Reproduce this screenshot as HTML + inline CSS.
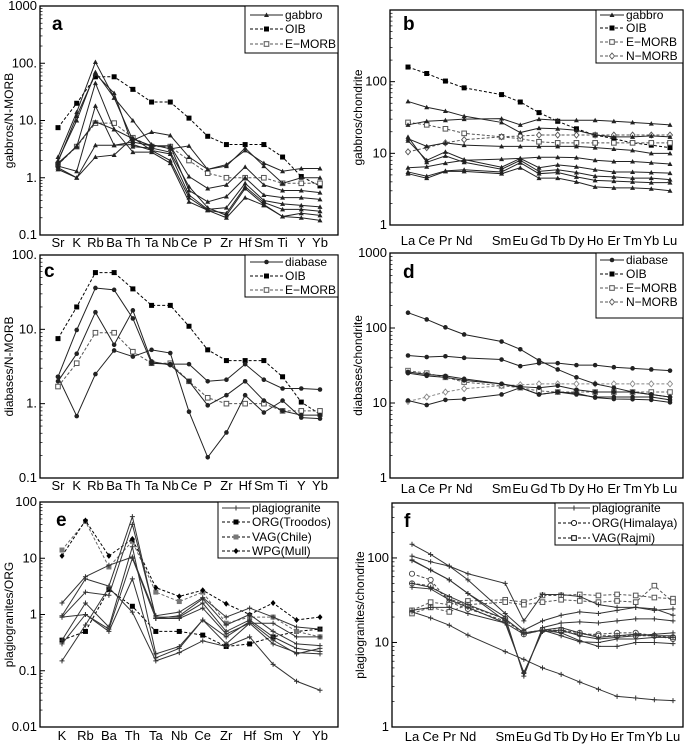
<!DOCTYPE html>
<html><head><meta charset="utf-8"><style>
html,body{margin:0;padding:0;background:#fff;}
svg{display:block;font-family:"Liberation Sans",Arial,sans-serif;}
</style></head><body>
<svg id="fig" width="685" height="744" viewBox="0 0 685 744" xmlns="http://www.w3.org/2000/svg"></svg>
<script>
const spiderA = ["Sr","K","Rb","Ba","Th","Ta","Nb","Ce","P","Zr","Hf","Sm","Ti","Y","Yb"];
const reeLabels = ["La","Ce","Pr","Nd","","Sm","Eu","Gd","Tb","Dy","Ho","Er","Tm","Yb","Lu"];
const reeIdx = [0,1,2,3,5,6,7,8,9,10,11,12,13,14];
const spiderE = ["K","Rb","Ba","Th","Ta","Nb","Ce","Zr","Hf","Sm","Y","Yb"];

const oibA = [7.5,20,58,58,35,21,21,11,5.3,3.8,3.8,3.8,2.3,1.05,0.72];
const emorbA = [1.7,3.5,9,9,5,3.5,3.5,2,1.2,1,1,1,0.8,0.8,0.8];
const gabbroA = [
 [2.3,14,105,25,10,3.8,3.2,3.6,1.4,1.7,3.0,1.8,1.3,1.45,1.45],
 [2.0,10,70,25,4.5,6.3,5.5,2.3,1.4,1.6,3.3,1.6,0.8,1.0,1.0],
 [1.8,3.5,45,7,4.8,3.6,3.6,1.05,0.65,0.75,1.55,0.75,0.6,0.6,0.55],
 [1.6,1.3,18,3.7,4.2,3.6,3.6,0.6,0.38,0.47,1.0,0.5,0.45,0.45,0.42],
 [1.5,1.0,3.7,3.7,3.8,3.0,2.6,0.5,0.28,0.3,0.8,0.4,0.35,0.33,0.31],
 [1.4,1.0,2.3,2.5,5.0,3.0,2.0,0.45,0.27,0.24,0.7,0.37,0.28,0.28,0.26],
 [1.7,3.6,9.5,7,2.8,2.8,1.8,0.38,0.27,0.2,0.45,0.33,0.21,0.2,0.18],
 [1.9,12,65,30,3.5,3.3,2.8,0.7,0.3,0.22,0.65,0.34,0.21,0.24,0.22]
];
const oibREE = [160,130,102,82,66,52,37,28,22,18,16,14,13,12];
const emorbREE = [27,25,22,19,17,16,14.5,14,14,14,14,14,14,14];
const nmorbREE = [10.5,12,14,15.5,17,17.5,18,18,18,18,18,18,18,18];
const gabbroB = [
 [53,44,39,33,27,19.5,22.5,22,21,18,17,17,17.5,17],
 [25,28,29,30,30.5,25,30,29,29,29,28,27,26,25],
 [16,12.5,14,13,12.5,12.5,12.5,12.5,12.5,12,11.5,11,10,10],
 [6.3,6.5,7.3,8,8.3,8.5,8.8,8.8,8.7,8,7.7,7.7,7.4,7.1],
 [15,8,10.5,8.2,6.4,8.5,6.3,6.9,6.5,5.9,5.5,5.5,5.4,5.3],
 [17,7.5,9.2,7.5,6,8,5.6,5.9,5.4,4.8,4.7,4.5,4.5,4.3],
 [5.5,4.8,5.7,5.9,5.5,7.4,5.2,5.4,4.7,4.2,4.1,4.0,3.9,3.9],
 [5.2,4.5,5.6,5.6,5.2,6.3,4.5,4.5,4,3.4,3.3,3.3,3.2,3.0]
];
const diabaseC = [
 [2.3,9.8,36,34,14,3.5,3.4,3.4,2.0,2.1,3.4,2.1,1.6,1.6,1.55],
 [2.0,4.7,17,6.2,18,3.7,3.3,2.0,0.95,1.3,2.0,1.1,0.8,0.7,0.7],
 [2.3,0.68,2.5,5.2,4.3,5.3,4.8,0.78,0.19,0.41,1.3,0.76,1.1,0.65,0.63]
];
const diabaseD = [
 [43,41,42,40,38,31,34,34,32,32,30,29,28,27],
 [26,24,23,21,18,16.5,16,17,15,14,14,14,13,12],
 [25,23,22,20,18,16,13,14,13,12,12,12,12,11],
 [10.8,9.4,11,11.3,13,16,13,14,13.5,11.8,11.3,11.2,11,10.2]
];
const orgE = [0.35,0.5,2.8,1.4,0.5,0.5,0.43,0.27,0.3,0.4,0.5,0.55];
const vagE = [14,45,7,20,2.5,1.7,2.5,0.7,0.9,0.9,0.5,0.4];
const wpgE = [11,47,11,22,3.0,2.1,2.7,1.55,1.0,1.6,0.8,0.9];
const plagE = [
 [1.6,4.7,7.5,10.5,0.95,1.1,2.0,0.9,1.3,0.9,0.6,0.55],
 [0.95,4.3,3.2,55,0.85,0.95,1.9,0.65,1.0,0.5,0.3,0.28],
 [0.9,2.5,2.2,40,0.9,0.9,1.6,0.5,0.8,0.4,0.25,0.22],
 [0.35,1.6,0.6,16,0.2,0.27,0.8,0.4,0.75,0.35,0.2,0.25],
 [0.3,1.0,0.5,4.3,0.17,0.25,0.8,0.3,0.7,0.3,0.21,0.2],
 [0.15,0.65,3.0,1.1,0.15,0.21,0.34,0.27,0.4,0.13,0.065,0.045],
 [0.9,1.0,0.55,10,0.85,0.85,1.3,0.45,0.7,0.7,0.4,0.4]
];
const orgF = [
 [65,55,30,25,18,13,14,13.5,12.5,12.5,13,13,12,11],
 [50,47,33,27,19,12.5,14,14,13,12,12,12,12,11.5]
];
const vagF = [
 [24,30,28,31,32,30,36,36,37,36,37,36,34,33],
 [22,26,23,28,30,28,30,32,31,30,31,30,47,30]
];
const plagF = [
 [145,110,80,65,50,18,37,37,35,28,26,26,25,21],
 [105,90,80,55,22,14,18,21,23,22,24,26,24,25],
 [95,72,55,38,20,4,15,17,17.5,17,18,19,19,18],
 [50,45,35,28,19,13,14,15,13,11.5,12,12.5,12,12],
 [45,43,32,26,17,12.5,14,13,10.5,9,9,10,10,9.7],
 [23,19.5,16,12.2,7.8,6.3,5,4.2,3.4,2.8,2.3,2.2,2.1,2.05],
 [93,72,55,38,18,4.3,14,12,10.2,10,11,11,11.5,11.5],
 [24,26,26,22,17,4.4,13.5,14,12,11,11.5,12,12.5,13]
];

const svg = document.getElementById('fig');
const NS = "http://www.w3.org/2000/svg";
function mk(tag, attrs, parent){const e=document.createElementNS(NS,tag);for(const k in attrs)e.setAttribute(k,attrs[k]);(parent||svg).appendChild(e);return e;}

function marker(g, type, x, y, color){
  let m;
  if(type==='tri') m=mk('path',{d:`M${x},${y-2.5}L${x+2.5},${y+2}L${x-2.5},${y+2}Z`,fill:color},g);
  else if(type==='sq') m=mk('rect',{x:x-2.5,y:y-2.5,width:5,height:5,fill:color},g);
  else if(type==='osq') m=mk('rect',{x:x-2.3,y:y-2.3,width:4.6,height:4.6,fill:'#fff',stroke:color,'stroke-width':1},g);
  else if(type==='dia') m=mk('path',{d:`M${x},${y-3}L${x+2.5},${y}L${x},${y+3}L${x-2.5},${y}Z`,fill:'#fff',stroke:color,'stroke-width':0.9},g);
  else if(type==='fdia') m=mk('path',{d:`M${x},${y-3}L${x+2.5},${y}L${x},${y+3}L${x-2.5},${y}Z`,fill:color},g);
  else if(type==='dot') m=mk('circle',{cx:x,cy:y,r:2.3,fill:color},g);
  else if(type==='ocirc') m=mk('circle',{cx:x,cy:y,r:2.6,fill:'#fff',stroke:color,'stroke-width':0.9},g);
  else if(type==='plus') m=mk('path',{d:`M${x-2.5},${y}H${x+2.5}M${x},${y-2.5}V${y+2.5}`,stroke:color,'stroke-width':1},g);
  return m;
}

function panel(p){
  const g=mk('g',{});
  
  
  const yScale=v=>p.y1-(Math.log10(v)-p.lmin)/(p.lmax-p.lmin)*(p.y1-p.y0);
  const xScale=i=>p.xa+i*(p.xb-p.xa)/(p.nCats-1);
  const frame=mk('rect',{x:p.fx0,y:p.y0,width:p.fx1-p.fx0,height:p.y1-p.y0,fill:'none',stroke:'#000','stroke-width':1.3},g);
  
  
  for(let d=Math.ceil(p.lmin);d<=Math.floor(p.lmax);d++){
    const y=yScale(Math.pow(10,d));
    mk('line',{x1:p.fx0,x2:p.fx0+5,y1:y,y2:y,stroke:'#000','stroke-width':1},g);
    for(let k=2;k<10;k++){const v=Math.pow(10,d)*k;if(Math.log10(v)<p.lmax){const yy=yScale(v);mk('line',{x1:p.fx0,x2:p.fx0+2.5,y1:yy,y2:yy,stroke:'#000','stroke-width':0.7},g);}}
    const t=mk('text',{x:p.fx0-3,y:y+4,'text-anchor':'end','font-size':13,fill:'#000'},g);
    t.textContent=p.tickFmt(d);
    
    
  }
  p.cats.forEach((c,i)=>{
    if(!c)return;
    const t=mk('text',{x:xScale(i),y:p.labY,'text-anchor':'middle','font-size':13,fill:'#000'},g);
    t.textContent=c;
    
    
  });
  const yt=mk('text',{x:0,y:0,'text-anchor':'middle','font-size':12,fill:'#000',transform:`translate(${p.ytx},${(p.y0+p.y1)/2}) rotate(-90)`},g);
  yt.textContent=p.ytitle;
  
  
  const lt=mk('text',{x:p.letter[0],y:p.letter[1],'font-size':19,'font-weight':'bold',fill:'#000'},g);
  lt.textContent=p.letterText;
  
  
  p.series.forEach(s=>{
    s.data.forEach(arr=>{
      const idx=s.idx||arr.map((_,i)=>i);
      const pts=arr.map((v,i)=>[xScale(idx[i]),yScale(v)]);
      const pl=mk('polyline',{points:pts.map(q=>q.join(',')).join(' '),fill:'none',stroke:s.color,'stroke-width':s.w||1,'stroke-dasharray':s.dash||'none'},g);
      
      
      pts.forEach(q=>{const m=marker(g,s.marker,q[0],q[1],s.mcolor||s.color);
        
        });
    });
  });
  const L=p.legend;
  const lg=mk('g',{},g);
  
  
  mk('rect',{x:L.x0,y:L.y0,width:L.x1-L.x0,height:L.y1-L.y0,fill:'#fff',stroke:'#000','stroke-width':1},lg);
  L.items.forEach((it,i)=>{
    const y=L.ys[i];
    const e=mk('g',{},lg);
    
    
    mk('line',{x1:L.lx0,x2:L.lx1,y1:y,y2:y,stroke:it.color,'stroke-width':1,'stroke-dasharray':it.dash||'none'},e);
    marker(e,it.marker,(L.lx0+L.lx1)/2,y,it.mcolor||it.color);
    const t=mk('text',{x:L.lx1+2,y:y+4,'font-size':12,fill:'#000'},e);
    t.textContent=it.label;
  });
}

const fmtA=d=>({'-1':'0.1','0':'1.','1':'10.','2':'100.','3':'1000'})[d];
const fmtB=d=>({'0':'1','1':'10','2':'100','3':'1000'})[d];
const fmtE=d=>({'-2':'0.01','-1':'0.1','0':'1','1':'10','2':'100'})[d];
const D='3,2';

panel({name:'panel-a',fx0:40,fx1:338,y0:6,y1:235,lmin:-1,lmax:3,xa:58,xb:320,nCats:15,cats:spiderA,labY:247,tickFmt:fmtA,
 ytx:13,ytitle:'gabbros/N-MORB',letter:[52,30],letterText:'a',
 series:[
  {key:'oib',data:[oibA],color:'#000',dash:D,marker:'sq'},
  {key:'e-morb',data:[emorbA],color:'#555',dash:D,marker:'osq'},
  {key:'gabbro',data:gabbroA,color:'#222',marker:'tri'}],
 legend:{x0:245,x1:338,y0:6,y1:53,lx0:250,lx1:283,ys:[15,29,44],items:[
  {key:'gabbro',label:'gabbro',color:'#222',marker:'tri'},
  {key:'oib',label:'OIB',color:'#000',dash:D,marker:'sq'},
  {key:'e-morb',label:'E−MORB',color:'#555',dash:D,marker:'osq'}]}});

panel({name:'panel-b',fx0:390,fx1:683,y0:10,y1:225,lmin:0,lmax:3,xa:408,xb:670,nCats:15,cats:reeLabels,labY:245,tickFmt:d=>d==3?'':fmtB(d),
 ytx:362,ytitle:'gabbros/chondrite',letter:[403,30],letterText:'b',
 series:[
  {key:'oib',data:[oibREE],idx:reeIdx,color:'#000',dash:D,marker:'sq'},
  {key:'e-morb',data:[emorbREE],idx:reeIdx,color:'#555',dash:D,marker:'osq'},
  {key:'n-morb',data:[nmorbREE],idx:reeIdx,color:'#555',dash:D,marker:'dia'},
  {key:'gabbro',data:gabbroB,idx:reeIdx,color:'#222',marker:'tri'}],
 legend:{x0:596,x1:683,y0:10,y1:63,lx0:600,lx1:624,ys:[15,28,42,56],items:[
  {key:'gabbro',label:'gabbro',color:'#222',marker:'tri'},
  {key:'oib',label:'OIB',color:'#000',dash:D,marker:'sq'},
  {key:'e-morb',label:'E−MORB',color:'#555',dash:D,marker:'osq'},
  {key:'n-morb',label:'N−MORB',color:'#555',dash:D,marker:'dia'}]}});

panel({name:'panel-c',fx0:40,fx1:338,y0:255,y1:478,lmin:-1,lmax:2,xa:58,xb:320,nCats:15,cats:spiderA,labY:490,tickFmt:fmtA,
 ytx:13,ytitle:'diabases/N-MORB',letter:[44,277],letterText:'c',
 series:[
  {key:'oib',data:[oibA],color:'#000',dash:D,marker:'sq'},
  {key:'e-morb',data:[emorbA],color:'#555',dash:D,marker:'osq'},
  {key:'diabase',data:diabaseC,color:'#222',marker:'dot'}],
 legend:{x0:245,x1:338,y0:255,y1:297,lx0:250,lx1:283,ys:[262,276,290],items:[
  {key:'diabase',label:'diabase',color:'#222',marker:'dot'},
  {key:'oib',label:'OIB',color:'#000',dash:D,marker:'sq'},
  {key:'e-morb',label:'E−MORB',color:'#555',dash:D,marker:'osq'}]}});

panel({name:'panel-d',fx0:390,fx1:683,y0:253,y1:478,lmin:0,lmax:3,xa:408,xb:670,nCats:15,cats:reeLabels,labY:493,tickFmt:fmtB,
 ytx:362,ytitle:'diabases/chondrite',letter:[403,278],letterText:'d',
 series:[
  {key:'e-morb',data:[emorbREE],idx:reeIdx,color:'#666',dash:D,marker:'osq'},
  {key:'n-morb',data:[nmorbREE],idx:reeIdx,color:'#888',dash:D,marker:'dia'},
  {key:'oib',data:[oibREE],idx:reeIdx,color:'#222',marker:'dot'},
  {key:'diabase',data:diabaseD,idx:reeIdx,color:'#222',marker:'dot'}],
 legend:{x0:596,x1:683,y0:253,y1:318,lx0:600,lx1:624,ys:[260,274,288,302],items:[
  {key:'diabase',label:'diabase',color:'#222',marker:'dot'},
  {key:'oib',label:'OIB',color:'#000',dash:D,marker:'sq'},
  {key:'e-morb',label:'E−MORB',color:'#555',dash:D,marker:'osq'},
  {key:'n-morb',label:'N−MORB',color:'#555',dash:D,marker:'dia'}]}});

panel({name:'panel-e',fx0:40,fx1:338,y0:502,y1:727,lmin:-2,lmax:2,xa:62,xb:320,nCats:12,cats:spiderE,labY:740,tickFmt:fmtE,
 ytx:13,ytitle:'plagiogranites/ORG',letter:[56,526],letterText:'e',
 series:[
  {key:'org',data:[orgE],color:'#000',dash:D,marker:'sq'},
  {key:'vag',data:[vagE],color:'#666',dash:D,marker:'sq',mcolor:'#777'},
  {key:'wpg',data:[wpgE],color:'#000',dash:D,marker:'fdia'},
  {key:'plagiogranite',data:plagE,color:'#333',marker:'plus'}],
 legend:{x0:218,x1:338,y0:502,y1:558,lx0:222,lx1:250,ys:[508,522,537,551],items:[
  {key:'plagiogranite',label:'plagiogranite',color:'#333',marker:'plus'},
  {key:'org',label:'ORG(Troodos)',color:'#000',dash:D,marker:'sq'},
  {key:'vag',label:'VAG(Chile)',color:'#000',dash:D,marker:'sq',mcolor:'#777'},
  {key:'wpg',label:'WPG(Mull)',color:'#000',dash:D,marker:'fdia'}]}});

panel({name:'panel-f',fx0:392,fx1:683,y0:503,y1:727,lmin:0,lmax:2.65,xa:412,xb:673,nCats:15,cats:reeLabels,labY:741,tickFmt:fmtB,
 ytx:364,ytitle:'plagiogranites/chondrite',letter:[404,527],letterText:'f',
 series:[
  {key:'org-himalaya',data:orgF,idx:reeIdx,color:'#444',dash:D,marker:'ocirc'},
  {key:'vag-rajmi',data:vagF,idx:reeIdx,color:'#555',dash:D,marker:'osq'},
  {key:'plagiogranite',data:plagF,idx:reeIdx,color:'#333',marker:'plus'}],
 legend:{x0:555,x1:683,y0:503,y1:545,lx0:558,lx1:590,ys:[508,523,538],items:[
  {key:'plagiogranite',label:'plagiogranite',color:'#333',marker:'plus'},
  {key:'org-himalaya',label:'ORG(Himalaya)',color:'#000',dash:D,marker:'ocirc'},
  {key:'vag-rajmi',label:'VAG(Rajmi)',color:'#000',dash:D,marker:'osq'}]}});
</script>
</body></html>
